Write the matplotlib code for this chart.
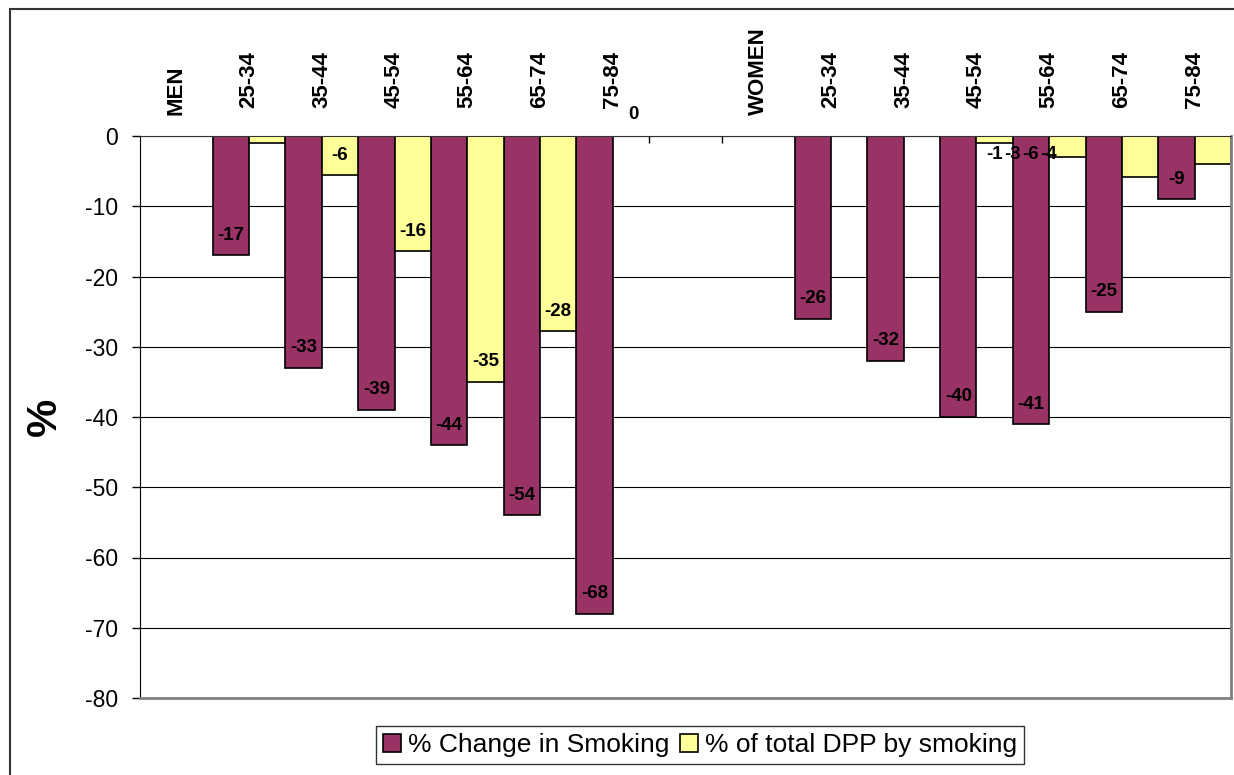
import numpy as np
import matplotlib
matplotlib.use("Agg")
import matplotlib.pyplot as plt
from matplotlib.patches import Rectangle

plt.rcParams["font.family"] = ["Liberation Sans", "DejaVu Sans"]
plt.rcParams["axes.unicode_minus"] = False

# --- data -------------------------------------------------------------------
categories = ["MEN", "25-34", "35-44", "45-54", "55-64", "65-74", "75-84", "",
              "WOMEN", "25-34", "35-44", "45-54", "55-64", "65-74", "75-84"]

change_smoking = [None, -17, -33, -39, -44, -54, -68, None,
                  None, -26, -32, -40, -41, -25, -9]
dpp_smoking = [None, -1, -5.6, -16.4, -35, -27.8, 0, None,
               None, 0, 0, -1, -3, -5.8, -4]

# which yellow labels Excel actually showed
dpp_label_shown = [False, False, True, True, True, True, True, False,
                   False, False, False, False, False, False, False]
# the women labels that got piled together next to 45-54
women_pile_idx = [11, 12, 13, 14]

PURPLE = "#993366"
YELLOW = "#FFFF99"

x = np.arange(len(categories))
w = 0.5

fig = plt.figure(figsize=(12.34, 7.75), dpi=100)
ax = fig.add_axes([140 / 1234, 1 - 698 / 775, 1091 / 1234, 562 / 775])

cs = np.array([np.nan if v is None else v for v in change_smoking], dtype=float)
dp = np.array([np.nan if v is None else v for v in dpp_smoking], dtype=float)

ax.bar(x - w / 2, cs, width=w, color=PURPLE, edgecolor="black", linewidth=1.2,
       label="% Change in Smoking")
ax.bar(x + w / 2, dp, width=w, color=YELLOW, edgecolor="black", linewidth=1.2,
       label="% of total DPP by smoking")

lbl = dict(ha="center", va="center", fontsize=13.5, fontweight="bold")
for i, v in enumerate(change_smoking):
    if v is not None:
        ax.text(i - w / 2, v + 2.85, f"{v:.0f}", **lbl)
for i, v in enumerate(dpp_smoking):
    if v is None or not dpp_label_shown[i]:
        continue
    if v == 0:
        ax.text(i + w / 2 + 0.03, 3.1, "0", clip_on=False, **lbl)
    else:
        ax.text(i + w / 2, v + 2.85, f"{v:.0f}", **lbl)
for j, i in enumerate(women_pile_idx):
    ax.text(women_pile_idx[0] + w / 2 + j * 0.245, -2.7,
            f"{dpp_smoking[i]:.0f}", **lbl)

# --- axes -------------------------------------------------------------------
ax.set_xlim(-0.5, len(categories) - 0.5)
ax.set_ylim(-80, 0)
ax.set_yticks(np.arange(-80, 1, 10))
ax.tick_params(axis="y", labelsize=16.5, length=6, width=1, pad=10, direction="out")
ax.set_ylabel("%", fontsize=31, fontweight="bold", labelpad=14)

ax.xaxis.tick_top()
ax.set_xticks(x)
ax.set_xticklabels(categories, rotation=90, fontsize=16, fontweight="bold")
ax.set_xticks(np.arange(0.5, len(categories) - 1, 1), minor=True)
ax.tick_params(axis="x", which="major", length=0, pad=20)
ax.tick_params(axis="x", which="minor", length=5, width=1, direction="in",
               top=True, bottom=False)
for t, name in zip(ax.xaxis.get_major_ticks(), categories):
    if name in ("MEN", "WOMEN"):
        t.set_pad(15)

ax.set_axisbelow(True)
ax.yaxis.grid(True, color="black", linewidth=0.8)
for s in ("right", "bottom"):
    ax.spines[s].set_color("#808080")
    ax.spines[s].set_linewidth(2)
ax.spines["left"].set_color("black")
ax.spines["top"].set_color("#333333")

leg = fig.legend(loc="center", bbox_to_anchor=(700 / 1234, 1 - 745 / 775), ncol=2,
                 fontsize=19, frameon=True, fancybox=False, edgecolor="black",
                 handlelength=0.7, handleheight=0.7, handletextpad=0.25,
                 columnspacing=0.4, borderpad=0.25, borderaxespad=0)
leg.get_frame().set_linewidth(1)

# chart-area border (only left and top edges are inside the crop)
fig.add_artist(Rectangle((10 / 1234, -0.1), 1.2, 1 - 9 / 775 + 0.1,
                         transform=fig.transFigure, fill=False,
                         edgecolor="#333333", linewidth=1.5))

fig.savefig("out.png", dpi=100)
